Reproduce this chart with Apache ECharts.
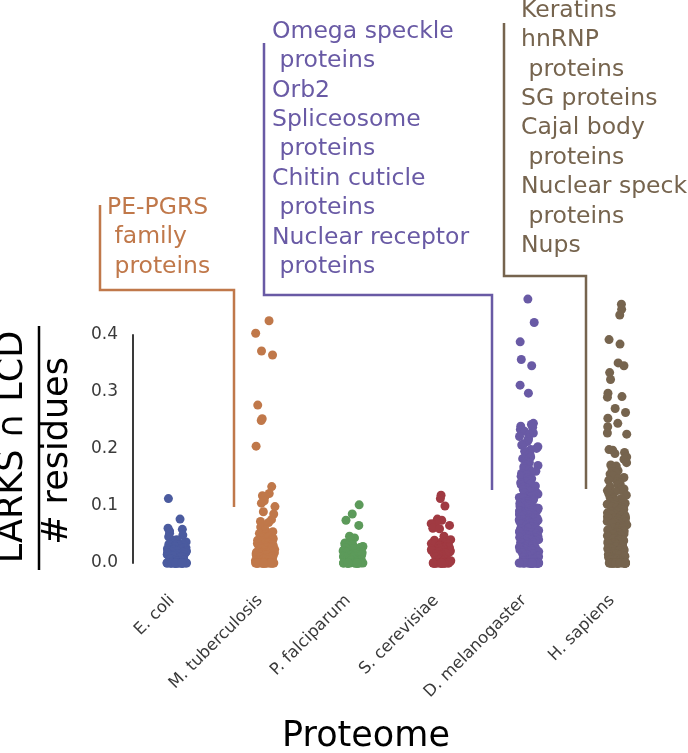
<!DOCTYPE html>
<html><head><meta charset="utf-8">
<script src="https://cdn.jsdelivr.net/npm/echarts@6/dist/echarts.min.js"></script>
<style>html,body{margin:0;padding:0;background:#fff}#c{width:688px;height:753px}</style>
</head><body><div id="c"></div>
<script>
const categories = ['E. coli', 'M. tuberculosis', 'P. falciparum', 'S. cerevisiae', 'D. melanogaster', 'H. sapiens'];
const yTickLabels = ['0.0', '0.1', '0.2', '0.3', '0.4'];

const ecoli = [0.113, 0.077, 0.061, 0.059, 0.056, 0.052, 0.049, 0.046, 0.041, 0.040, 0.037,
  0.036, 0.035, 0.034, 0.034, 0.033, 0.032, 0.031, 0.031, 0.030, 0.029,
  0.029, 0.028, 0.027, 0.027, 0.026, 0.025, 0.025, 0.024, 0.023, 0.023,
  0.022, 0.021, 0.021, 0.020, 0.019, 0.019, 0.018, 0.017, 0.017, 0.016,
  0.015, 0.015, 0.014, 0.013, 0.013, 0.012, 0.011, 0.011, 0.010, 0.009,
  0.009, 0.008, 0.007, 0.007, 0.006, 0.005, 0.005, 0.004, 0.003, 0.003,
  0.002, 0.001, 0.001, 0, 0, 0, 0, 0, 0, 0, 0, 0, 0, 0, 0, 0, 0, 0, 0, 0, 0, 0, 0, 0, 0, 0];
const mtub = [0.425, 0.403, 0.372, 0.365, 0.277, 0.253, 0.250, 0.205, 0.134, 0.122, 0.118, 0.116,
  0.109, 0.105, 0.099, 0.090, 0.086, 0.076, 0.073, 0.071, 0.067, 0.063, 0.058, 0.055, 0.052, 0.050,
  0.048, 0.046, 0.045, 0.044, 0.043, 0.042, 0.041, 0.040, 0.039, 0.039, 0.038, 0.037, 0.036, 0.035,
  0.035, 0.034, 0.033, 0.032, 0.031, 0.031, 0.030, 0.029, 0.028, 0.028, 0.027, 0.026, 0.025, 0.025,
  0.024, 0.023, 0.022, 0.022, 0.021, 0.020, 0.019, 0.019, 0.018, 0.017, 0.016, 0.016, 0.015, 0.014,
  0.013, 0.013, 0.012, 0.011, 0.010, 0.010, 0.009, 0.008, 0.007, 0.007, 0.006, 0.005, 0.004, 0.004,
  0.003, 0.002, 0.001, 0.001, 0, 0, 0, 0, 0, 0, 0, 0, 0, 0, 0, 0, 0, 0, 0, 0, 0, 0, 0, 0, 0, 0];
const pfal = [0.102, 0.086, 0.075, 0.066, 0.047, 0.044, 0.041, 0.035, 0.034, 0.033, 0.032, 0.031,
  0.030, 0.029, 0.028, 0.027, 0.027, 0.026, 0.025, 0.024, 0.023, 0.022, 0.022, 0.021, 0.020, 0.019,
  0.018, 0.018, 0.017, 0.016, 0.015, 0.014, 0.014, 0.013, 0.012, 0.011, 0.010, 0.010, 0.009, 0.008,
  0.007, 0.006, 0.006, 0.005, 0.004, 0.003, 0.002, 0.002, 0.001, 0, 0, 0, 0, 0, 0, 0, 0, 0, 0, 0,
  0, 0, 0, 0, 0, 0, 0];
const scer = [0.119, 0.113, 0.100, 0.077, 0.075, 0.072, 0.069, 0.066, 0.061, 0.060, 0.047, 0.041,
  0.040, 0.039, 0.038, 0.037, 0.036, 0.035, 0.034, 0.034, 0.033, 0.032, 0.031, 0.030, 0.030, 0.029,
  0.028, 0.027, 0.026, 0.026, 0.025, 0.024, 0.023, 0.022, 0.022, 0.021, 0.020, 0.019, 0.018, 0.018,
  0.017, 0.016, 0.015, 0.014, 0.014, 0.013, 0.012, 0.011, 0.010, 0.010, 0.009, 0.008, 0.007, 0.006,
  0.006, 0.005, 0.004, 0.003, 0.002, 0.002, 0.001, 0, 0, 0, 0, 0, 0, 0, 0, 0, 0, 0, 0, 0, 0, 0,
  0, 0, 0, 0, 0];
const dmel = [0.463, 0.422, 0.388, 0.357, 0.346, 0.312, 0.298,
  0.245, 0.243, 0.240, 0.238, 0.234, 0.231, 0.228, 0.226, 0.222, 0.219, 0.216, 0.213, 0.209, 0.207,
  0.204, 0.201, 0.199, 0.196, 0.193, 0.191, 0.188, 0.186, 0.183, 0.180, 0.178, 0.176, 0.173, 0.171,
  0.169, 0.166, 0.164, 0.161, 0.159, 0.157, 0.155, 0.152, 0.150, 0.148, 0.146, 0.143, 0.141, 0.139,
  0.137, 0.135, 0.133, 0.131, 0.129, 0.127, 0.125, 0.124, 0.123, 0.121, 0.120,
  0.118, 0.117, 0.116, 0.116, 0.115, 0.114, 0.113, 0.112, 0.112, 0.111, 0.110, 0.109, 0.108, 0.108,
  0.107, 0.106, 0.105, 0.104, 0.104, 0.103, 0.102, 0.101, 0.100, 0.100, 0.099, 0.098, 0.097, 0.096,
  0.096, 0.095, 0.094, 0.093, 0.092, 0.092, 0.091, 0.090, 0.089, 0.088, 0.088, 0.087, 0.086, 0.085,
  0.084, 0.084, 0.083, 0.082, 0.081, 0.080, 0.080, 0.079, 0.078, 0.077, 0.076, 0.076, 0.075, 0.074,
  0.073, 0.072, 0.072, 0.071, 0.070, 0.069, 0.068, 0.068, 0.067, 0.066, 0.065, 0.064, 0.064, 0.063,
  0.062, 0.061, 0.060, 0.060, 0.059, 0.058, 0.057, 0.056, 0.056, 0.055, 0.054, 0.053, 0.052, 0.052,
  0.051, 0.050, 0.049, 0.048, 0.048, 0.047, 0.046, 0.045, 0.044, 0.044, 0.043, 0.042, 0.041, 0.040,
  0.040, 0.039, 0.038, 0.037, 0.036, 0.036, 0.035, 0.034, 0.033, 0.032, 0.032, 0.031, 0.030, 0.029,
  0.028, 0.028, 0.027, 0.026, 0.025, 0.024, 0.024, 0.023, 0.022, 0.021, 0.020, 0.020, 0.019, 0.018,
  0.017, 0.016, 0.016, 0.015, 0.014, 0.013, 0.012, 0.012, 0.011, 0.010, 0.009, 0.008, 0.008, 0.007,
  0.006, 0.005, 0.004, 0.004, 0.003, 0.002, 0.001, 0, 0, 0, 0, 0, 0, 0, 0, 0, 0, 0, 0, 0, 0, 0,
  0, 0, 0, 0, 0, 0, 0, 0, 0, 0, 0];
const hsap = [0.454, 0.445, 0.435, 0.392, 0.384, 0.351, 0.346, 0.334, 0.322, 0.298, 0.292, 0.291,
  0.271, 0.264, 0.254, 0.245, 0.239, 0.228, 0.226, 0.199, 0.198, 0.194, 0.192, 0.186, 0.182, 0.176,
  0.172, 0.170, 0.165, 0.162, 0.160, 0.158, 0.156, 0.153, 0.150, 0.148, 0.145, 0.143, 0.140, 0.137,
  0.134, 0.132, 0.130, 0.128, 0.127, 0.125, 0.122, 0.121, 0.119, 0.118, 0.116,
  0.114, 0.113, 0.112, 0.111, 0.110, 0.109, 0.108, 0.107, 0.106, 0.105, 0.104, 0.104, 0.103, 0.102,
  0.101, 0.100, 0.099, 0.098, 0.097, 0.096, 0.096, 0.095, 0.094, 0.093, 0.092, 0.091, 0.090, 0.089,
  0.088, 0.088, 0.087, 0.086, 0.085, 0.084, 0.083, 0.082, 0.081, 0.080, 0.080, 0.079, 0.078, 0.077,
  0.076, 0.075, 0.074, 0.073, 0.072, 0.072, 0.071, 0.070, 0.069, 0.068, 0.067, 0.066, 0.065, 0.064,
  0.064, 0.063, 0.062, 0.061, 0.060, 0.059, 0.058, 0.057, 0.056, 0.056, 0.055, 0.054, 0.053, 0.052,
  0.051, 0.050, 0.049, 0.048, 0.048, 0.047, 0.046, 0.045, 0.044, 0.043, 0.042, 0.041, 0.040, 0.040,
  0.039, 0.038, 0.037, 0.036, 0.035, 0.034, 0.033, 0.032, 0.032, 0.031, 0.030, 0.029, 0.028, 0.027,
  0.026, 0.025, 0.024, 0.024, 0.023, 0.022, 0.021, 0.020, 0.019, 0.018, 0.017, 0.016, 0.016, 0.015,
  0.014, 0.013, 0.012, 0.011, 0.010, 0.009, 0.008, 0.008, 0.007, 0.006, 0.005, 0.004, 0.003, 0.002,
  0.001, 0, 0, 0, 0, 0, 0, 0, 0, 0, 0, 0, 0, 0, 0, 0, 0, 0, 0, 0, 0, 0, 0, 0, 0, 0];
const seriesValues = [ecoli, mtub, pfal, scer, dmel, hsap];

const orangeNote = ['PE-PGRS', ' family', ' proteins'];
const purpleNote = ['Omega speckle', ' proteins', 'Orb2', 'Spliceosome', ' proteins', 'Chitin cuticle', ' proteins', 'Nuclear receptor', ' proteins'];
const brownNote = ['Keratins', 'hnRNP', ' proteins', 'SG proteins', 'Cajal body', ' proteins', 'Nuclear speck', ' proteins', 'Nups'];

const colors = ['#4b5b9f', '#c0784a', '#5c9a5a', '#a03a42', '#695aa5', '#76644e'];
const FONT = '"DejaVu Sans", sans-serif';

const chart = echarts.init(document.getElementById('c'), null, {renderer: 'canvas'});

const series = seriesValues.map((vals, i) => ({
  type: 'scatter',
  name: categories[i],
  clip: false,
  symbolSize: 9,
  itemStyle: {color: colors[i], opacity: 1},
  data: vals.map(v => [i, v])
}));

function noteText(lines, x, y, color) {
  return {type: 'text', x: x, y: y, z: 10,
    style: {text: lines.join('\n'), fontSize: 23.5, fontFamily: FONT, lineHeight: 29.4,
      fill: color, align: 'left', verticalAlign: 'top', textAlign: 'left', textVerticalAlign: 'top'}};
}
function bracket(points, color) {
  return {type: 'polyline', z: 10, shape: {points: points},
    style: {stroke: color, lineWidth: 2.5, fill: null}};
}

chart.setOption({
  animation: false,
  backgroundColor: '#fff',
  grid: {left: 133, right: 27, top: 335, bottom: 190, containLabel: false},
  xAxis: {
    type: 'category',
    data: categories,
    jitter: 20,
    jitterOverlap: true,
    axisLine: {show: false},
    axisTick: {show: false},
    splitLine: {show: false},
    axisLabel: {rotate: 45, margin: 30, fontSize: 16.5, color: '#3a3a3a', fontFamily: FONT, interval: 0,
      padding: [0, 7, 0, 0]}
  },
  yAxis: {
    type: 'value',
    min: 0, max: 0.4, interval: 0.1,
    axisLine: {show: true, lineStyle: {color: '#3a3a3a', width: 2}},
    axisTick: {show: false},
    splitLine: {show: false},
    axisLabel: {margin: 15, fontSize: 17, color: '#3a3a3a', fontFamily: FONT,
      formatter: (v) => yTickLabels[Math.round(v * 10)]}
  },
  series: series,
  graphic: [
    {type: 'text', x: 13, y: 447, rotation: Math.PI / 2,
      style: {text: 'LARKS \u2229 LCD', fontSize: 35, fontFamily: FONT, fill: '#000',
        align: 'center', verticalAlign: 'middle', textAlign: 'center', textVerticalAlign: 'middle'}},
    {type: 'text', x: 58, y: 451, rotation: Math.PI / 2,
      style: {text: '# residues', fontSize: 35, fontFamily: FONT, fill: '#000',
        align: 'center', verticalAlign: 'middle', textAlign: 'center', textVerticalAlign: 'middle'}},
    {type: 'line', shape: {x1: 39, y1: 326, x2: 39, y2: 570}, style: {stroke: '#000', lineWidth: 2.5}},
    {type: 'text', x: 366, y: 737,
      style: {text: 'Proteome', fontSize: 35, fontFamily: FONT, fill: '#000',
        align: 'center', verticalAlign: 'middle', textAlign: 'center', textVerticalAlign: 'middle'}},
    noteText(orangeNote, 107, 193, colors[1]),
    noteText(purpleNote, 272, 17, colors[4]),
    noteText(brownNote, 521, -4, colors[5]),
    bracket([[100, 205], [100, 290], [234, 290], [234, 507]], colors[1]),
    bracket([[264, 43], [264, 295], [492, 295], [492, 490]], colors[4]),
    bracket([[504, 23], [504, 276], [586, 276], [586, 489]], colors[5])
  ]
});
</script></body></html>
